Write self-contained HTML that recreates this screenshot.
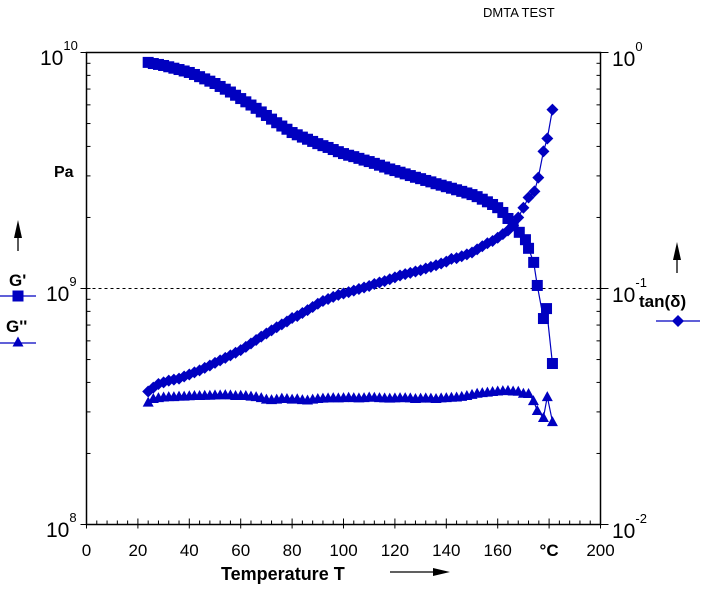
<!DOCTYPE html>
<html><head><meta charset="utf-8"><style>
body{margin:0;background:#fff;width:717px;height:593px;overflow:hidden}
svg{display:block;font-family:"Liberation Sans",Arial,sans-serif}
</style></head><body>
<svg id="chart" width="717" height="593" viewBox="0 0 717 593">
</svg>
<script>
// temperatures (°C) and values
const gpT=[24,26,28,30,32,34,36,38,40,42,44,46,48,50,52,54,56,58,60,62,64,66,68,70,72,74,76,78,80,82,84,86,88,90,92,94,96,98,100,102,104,106,108,110,112,114,116,118,120,122,124,126,128,130,132,134,136,138,140,142,144,146,148,150,152,154,156,158,160,162,164,166,168.4,170.8,172,174,175.4,177.8,179,181.3];
// G' in 1e9 Pa
const gpV=[9.08,8.98,8.90,8.81,8.70,8.58,8.47,8.35,8.23,8.07,7.90,7.73,7.56,7.39,7.18,6.99,6.80,6.59,6.38,6.18,5.99,5.80,5.60,5.41,5.22,5.04,4.88,4.73,4.58,4.48,4.38,4.29,4.20,4.11,4.03,3.96,3.88,3.80,3.73,3.67,3.62,3.56,3.50,3.45,3.39,3.33,3.27,3.21,3.16,3.11,3.06,3.01,2.96,2.92,2.87,2.83,2.78,2.74,2.70,2.66,2.62,2.58,2.54,2.50,2.45,2.39,2.33,2.27,2.20,2.10,1.98,1.87,1.73,1.61,1.48,1.29,1.03,0.746,0.822,0.481];
const tdT=[24,26,28,30,32,34,36,38,40,42,44,46,48,50,52,54,56,58,60,62,64,66,68,70,72,74,76,78,80,82,84,86,88,90,92,94,96,98,100,102,104,106,108,110,112,114,116,118,120,122,124,126,128,130,132,134,136,138,140,142,144,146,148,150,152,154,156,158,160,162,164,166,168,170,172,174.3,175.8,177.8,179.3,181.3];
const tdV=[.0366,.0380,.0394,.0400,.0407,.0411,.0415,.0424,.0432,.0441,.0450,.0461,.0472,.0484,.0496,.0508,.0521,.0534,.0548,.0566,.0585,.0605,.0625,.0645,.0665,.0685,.0705,.0725,.0750,.0765,.0787,.0810,.0835,.0862,.0885,.0903,.0921,.0940,.0952,.0965,.0980,.0995,.1010,.1025,.1045,.1060,.1075,.1095,.1115,.1135,.1150,.1165,.1180,.1195,.1215,.1235,.1255,.1276,.1300,.1335,.1345,.1370,.1395,.1420,.1465,.1510,.1555,.1590,.1640,.1700,.1760,.1850,.2000,.2200,.2430,.258,.295,.381,.432,.573];
const gppT=[24,26,28,30,32,34,36,38,40,42,44,46,48,50,52,54,56,58,60,62,64,66,68,70,72,74,76,78,80,82,84,86,88,90,92,94,96,98,100,102,104,106,108,110,112,114,116,118,120,122,124,126,128,130,132,134,136,138,140,142,144,146,148,150,152,154,156,158,160,162,164,166,168,170,172,173.9,175.4,177.8,179.3,181.3];
// G'' in 1e8 Pa
const gppV=[3.30,3.42,3.45,3.47,3.48,3.48,3.50,3.50,3.51,3.52,3.52,3.53,3.53,3.54,3.54,3.55,3.54,3.52,3.53,3.52,3.50,3.48,3.45,3.40,3.38,3.40,3.43,3.42,3.40,3.41,3.38,3.37,3.40,3.42,3.43,3.44,3.45,3.44,3.45,3.46,3.45,3.44,3.45,3.47,3.46,3.45,3.44,3.43,3.44,3.45,3.45,3.44,3.42,3.43,3.44,3.43,3.42,3.44,3.45,3.46,3.47,3.49,3.52,3.56,3.60,3.62,3.64,3.66,3.68,3.69,3.70,3.68,3.67,3.60,3.59,3.35,3.04,2.84,3.48,2.73];
const xTicks=[0,20,40,60,80,100,120,140,160,180,200];
const xTickLabels=["0","20","40","60","80","100","120","140","160","°C","200"];

const L=86.5,R=600.5,T=52.5,B=524.5;
const NS="http://www.w3.org/2000/svg";
const svg=document.getElementById('chart');
function X(t){return L+(t/200)*(R-L);}
function Yl(v){return B-(Math.log10(v)-8)/2*(B-T);}   // Pa
function Yr(v){return B-(Math.log10(v)+2)/2*(B-T);}   // tan delta
function mk(tag,attrs,parent){const e=document.createElementNS(NS,tag);for(const k in attrs)e.setAttribute(k,attrs[k]);(parent||svg).appendChild(e);return e;}
const BLUE="#0000c0";

// axes
const ax=mk('g',{stroke:'#000','stroke-width':1.5,fill:'none'});


mk('rect',{x:L,y:T,width:R-L,height:B-T},ax);
for(let t=0;t<=200;t+=4){const x=X(t);const maj=t%20===0;mk('line',{x1:x,x2:x,y1:B+(maj?4:0),y2:B-(maj?6:4),'stroke-width':1},ax);}
for(let d=0;d<2;d++){for(let m=1;m<10;m++){const y=B-(d+Math.log10(m))/2*(B-T);const maj=m===1;
 mk('line',{x1:L-(maj?6:0),x2:L+4,y1:y,y2:y,'stroke-width':1},ax);
 mk('line',{x1:R+(maj?8:0),x2:R-4,y1:y,y2:y,'stroke-width':1},ax);}}
mk('line',{x1:L-6,x2:L,y1:T,y2:T,'stroke-width':1},ax);
mk('line',{x1:R,x2:R+8,y1:T,y2:T,'stroke-width':1},ax);
const dl=mk('line',{x1:L,x2:R,y1:Yl(1e9),y2:Yl(1e9),stroke:'#000','stroke-width':1,'stroke-dasharray':'3,3'});



function txt(s,x,y,attrs,name){const e=mk('text',Object.assign({x:x,y:y,'font-size':16,fill:'#000'},attrs||{}));e.textContent=s;return e;}
xTicks.forEach((t,i)=>{const bold=xTickLabels[i]==="°C";txt(xTickLabels[i],X(t),556,{'text-anchor':'middle','font-weight':bold?'bold':'normal','font-size':17},'x-tick-label');});
function pow(base,exp,x,y,name){const g=mk('text',{x:x,y:y,'font-size':21,fill:'#000'});
 const a=mk('tspan',{},g);a.textContent=base;const b=mk('tspan',{'font-size':13,dy:-15},g);b.textContent=exp;}
pow('10','10',40,65,'y-left-tick-10');pow('10','9',46,301,'y-left-tick-9');pow('10','8',46,537,'y-left-tick-8');
pow('10','0',612,66,'y-right-tick-0');pow('10','-1',612,302,'y-right-tick-1');pow('10','-2',612,538,'y-right-tick-2');
txt('DMTA TEST',483,17,{'font-size':13},'chart-title');
txt('Pa',54,177,{'font-weight':'bold','font-size':16},'y-left-unit');
txt('Temperature T',221,580,{'font-weight':'bold','font-size':18},'x-axis-title');
mk('line',{x1:390,x2:440,y1:572,y2:572,stroke:'#000','stroke-width':1.3});
mk('polygon',{points:'433,568 450,572 433,576',fill:'#000'});
mk('line',{x1:18,x2:18,y1:232,y2:251,stroke:'#000','stroke-width':1.3});
mk('polygon',{points:'14,238 18,220 22,238',fill:'#000'});
mk('line',{x1:677,x2:677,y1:254,y2:273,stroke:'#000','stroke-width':1.3});
mk('polygon',{points:'673,260 677,242 681,260',fill:'#000'});
txt("G'",9,286,{'font-weight':'bold','font-size':17},'legend-g-prime-label');
txt("G''",6,332,{'font-weight':'bold','font-size':17},'legend-g-double-prime-label');
txt("tan(δ)",639,307,{'font-weight':'bold','font-size':17},'legend-tan-delta-label');

function sq(x,y,p){mk('rect',{x:x-5.5,y:y-5.5,width:11,height:11,fill:BLUE},p);}
function dia(x,y,p){mk('polygon',{points:`${x},${y-6} ${x+6},${y} ${x},${y+6} ${x-6},${y}`,fill:BLUE},p);}
function tri(x,y,p){mk('polygon',{points:`${x},${y-5.5} ${x+5.5},${y+4.5} ${x-5.5},${y+4.5}`,fill:BLUE},p);}
function series(Ts,Vs,scale,yf,marker,name){const g=mk('g',{});
 const pts=Ts.map((t,i)=>[X(t),yf(Vs[i]*scale)]);
 mk('polyline',{points:pts.map(p=>p.join(',')).join(' '),fill:'none',stroke:BLUE,'stroke-width':1.2},g);
 pts.forEach(p=>marker(p[0],p[1],g));}
series(gpT,gpV,1e9,Yl,sq,'series-g-prime');
series(tdT,tdV,1,Yr,dia,'series-tan-delta');
series(gppT,gppV,1e8,Yl,tri,'series-g-double-prime');
const lg1=mk('g',{});
mk('line',{x1:0,x2:36,y1:296,y2:296,stroke:BLUE,'stroke-width':1.2},lg1);sq(18,296,lg1);
const lg2=mk('g',{});
mk('line',{x1:0,x2:36,y1:343,y2:343,stroke:BLUE,'stroke-width':1.2},lg2);tri(18,342,lg2);
const lg3=mk('g',{});
mk('line',{x1:656,x2:700,y1:321,y2:321,stroke:BLUE,'stroke-width':1.2},lg3);dia(678,321,lg3);
</script>
</body></html>
